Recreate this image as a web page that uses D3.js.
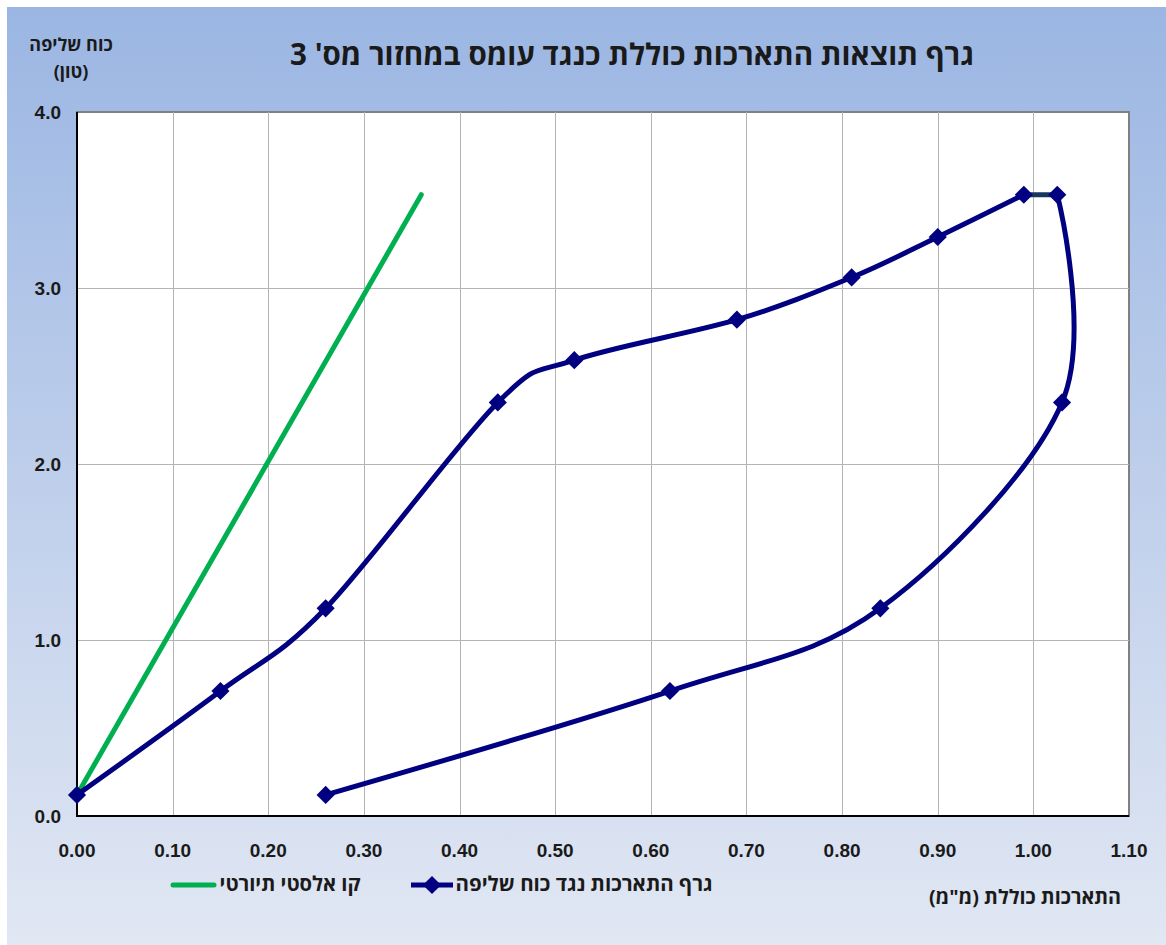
<!DOCTYPE html>
<html>
<head>
<meta charset="utf-8">
<script src="https://cdn.jsdelivr.net/npm/d3@7"></script>
<style>
  html, body { margin: 0; padding: 0; background: #ffffff; }
  svg { display: block; }
</style>
</head>
<body>
<div id="chart"></div>
<script>
// series data
const elongation = [0.00, 0.15, 0.26, 0.44, 0.52, 0.69, 0.81, 0.90, 0.99, 1.025, 1.03, 0.84, 0.62, 0.26];
const pullForce = [0.12, 0.71, 1.18, 2.35, 2.59, 2.82, 3.06, 3.29, 3.53, 3.53, 2.35, 1.18, 0.71, 0.12];
const elasticX = [0.00, 0.36];
const elasticY = [0.12, 3.53];

const xTicks = [0, 0.1, 0.2, 0.3, 0.4, 0.5, 0.6, 0.7, 0.8, 0.9, 1.0, 1.1];
const yTicks = [0, 1, 2, 3, 4];

const titleText = "גרף תוצאות התארכות כוללת כנגד עומס במחזור מס' 3";
const yTitle = ["כוח שליפה", "(טון)"];
const xTitle = 'התארכות כוללת (מ"מ)';
const legendNames = ["קו אלסטי תיורטי", "גרף התארכות נגד כוח שליפה"];

const width = 1166, height = 945;
const plot = { left: 77, top: 112, right: 1129, bottom: 816 };
const font = "'Liberation Sans', Arial, sans-serif";
const hebFont = "'Open Sans', 'DejaVu Sans', sans-serif";

const svg = d3.select('#chart')
    .append('svg')
    .attr('width', width)
    .attr('height', height);

// background gradient
const grad = svg.append('defs')
    .append('linearGradient')
    .attr('id', 'bg')
    .attr('x1', 0).attr('y1', 0).attr('x2', 0).attr('y2', 1);
grad.append('stop').attr('offset', '0%').attr('stop-color', '#9bb6e3');
grad.append('stop').attr('offset', '100%').attr('stop-color', '#e1e7f3');

svg.append('rect')
    .attr('x', 7).attr('y', 7)
    .attr('width', width - 7).attr('height', height - 7)
    .attr('fill', 'url(#bg)');

const x = d3.scaleLinear().domain([0, 1.1]).range([plot.left, plot.right]);
const y = d3.scaleLinear().domain([0, 4]).range([plot.bottom, plot.top]);

// plot area
svg.append('rect')
    .attr('x', plot.left).attr('y', plot.top)
    .attr('width', plot.right - plot.left).attr('height', plot.bottom - plot.top)
    .attr('fill', '#ffffff')
    .attr('stroke', '#808080')
    .attr('stroke-width', 2);

// gridlines
svg.append('g')
    .selectAll('line')
    .data(xTicks.slice(1, -1))
    .join('line')
    .attr('x1', d => Math.round(x(d)) + 0.5).attr('x2', d => Math.round(x(d)) + 0.5)
    .attr('y1', plot.top).attr('y2', plot.bottom)
    .attr('stroke', '#b4b4b4');

svg.append('g')
    .selectAll('line')
    .data(yTicks.slice(1, -1))
    .join('line')
    .attr('x1', plot.left).attr('x2', plot.right)
    .attr('y1', d => Math.round(y(d)) + 0.5).attr('y2', d => Math.round(y(d)) + 0.5)
    .attr('stroke', '#b4b4b4');

// axis lines
svg.append('line')
    .attr('x1', plot.left).attr('x2', plot.left)
    .attr('y1', plot.top).attr('y2', plot.bottom + 1)
    .attr('stroke', '#000').attr('stroke-width', 2);
svg.append('line')
    .attr('x1', plot.left - 1).attr('x2', plot.right)
    .attr('y1', plot.bottom).attr('y2', plot.bottom)
    .attr('stroke', '#000').attr('stroke-width', 2);

// tick labels
svg.append('g')
    .selectAll('text')
    .data(xTicks)
    .join('text')
    .attr('x', d => x(d))
    .attr('y', 857)
    .attr('text-anchor', 'middle')
    .style('font', `bold 19px ${font}`)
    .attr('fill', '#1a1a1a')
    .text(d3.format('.2f'));

svg.append('g')
    .selectAll('text')
    .data(yTicks)
    .join('text')
    .attr('x', 61)
    .attr('y', d => y(d) + 7)
    .attr('text-anchor', 'end')
    .style('font', `bold 19px ${font}`)
    .attr('fill', '#1a1a1a')
    .text(d3.format('.1f'));

// hebrew text helper: centred, right-to-left, sized to the width it takes in the original
function hebText(txt, cx, cy, size, targetW) {
    const t = svg.append('text')
        .attr('x', cx).attr('y', cy)
        .attr('text-anchor', 'middle')
        .attr('direction', 'rtl')
        .style('font', `bold ${size}px ${hebFont}`)
        .attr('fill', '#1a1a1a')
        .text(txt);
    const w = t.node().getComputedTextLength();
    if (targetW && w > 0) {
        const s = Math.min(size * 1.4, Math.max(size * 0.75, size * targetW / w));
        t.style('font', `bold ${s.toFixed(1)}px ${hebFont}`);
    }
    return t;
}

hebText(titleText, 632, 65, 22, 685);
hebText(yTitle[0], 71, 51, 18);
hebText(yTitle[1], 71, 78, 18);
hebText(xTitle, 1025, 904, 15, 192);

// elastic line
const elasticPts = elasticX.map((v, i) => [v, elasticY[i]]);
svg.append('path')
    .datum(elasticPts)
    .attr('d', d3.line().x(d => x(d[0])).y(d => y(d[1])))
    .attr('fill', 'none')
    .attr('stroke', '#00b050')
    .attr('stroke-width', 5)
    .attr('stroke-linecap', 'round');

// measured curve: smoothed, with the top step drawn straight
const pts = elongation.map((v, i) => [v, pullForce[i]]);
const smooth = d3.line()
    .x(d => x(d[0]))
    .y(d => y(d[1]))
    .curve(d3.curveCardinal.tension(0));

[pts.slice(0, 9), pts.slice(9)].forEach(seg => {
    svg.append('path')
        .datum(seg)
        .attr('d', smooth)
        .attr('fill', 'none')
        .attr('stroke', '#000080')
        .attr('stroke-width', 5)
        .attr('stroke-linejoin', 'round');
});

svg.append('path')
    .datum(pts.slice(8, 10))
    .attr('d', d3.line().x(d => x(d[0])).y(d => y(d[1])))
    .attr('fill', 'none')
    .attr('stroke', '#17375e')
    .attr('stroke-width', 5);

const diamond = d3.symbol().type(d3.symbolDiamond2).size(210);
svg.append('g')
    .selectAll('path')
    .data(pts)
    .join('path')
    .attr('transform', d => `translate(${x(d[0])},${y(d[1])})`)
    .attr('d', diamond)
    .attr('fill', '#000080');

// legend
svg.append('line')
    .attr('x1', 173).attr('x2', 214)
    .attr('y1', 885).attr('y2', 885)
    .attr('stroke', '#00b050').attr('stroke-width', 5)
    .attr('stroke-linecap', 'round');
hebText(legendNames[0], 290, 891, 15, 141);

svg.append('line')
    .attr('x1', 411).attr('x2', 453)
    .attr('y1', 885).attr('y2', 885)
    .attr('stroke', '#000080').attr('stroke-width', 5);
svg.append('path')
    .attr('transform', 'translate(432,885)')
    .attr('d', diamond)
    .attr('fill', '#000080');
hebText(legendNames[1], 584, 891, 15, 257);
</script>
</body>
</html>
